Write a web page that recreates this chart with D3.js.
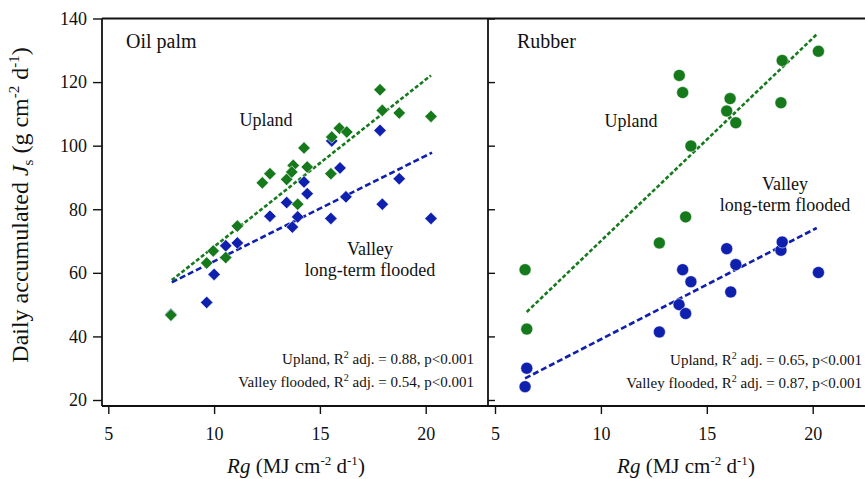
<!DOCTYPE html>
<html><head><meta charset="utf-8">
<script src="https://cdn.jsdelivr.net/npm/d3@7"></script>
<style>body{margin:0;background:#fff}svg{display:block}text{font-family:"Liberation Serif","Times New Roman",serif;fill:#111}</style>
</head><body><svg id="c" width="865" height="479"></svg>
<script>
// ---- data ----
const xTicks = [5, 10, 15, 20];
const yTicks = [20, 40, 60, 80, 100, 120, 140];
const panelNames = ["Oil palm", "Rubber"];

const oilUplandX = [7.96, 9.65, 9.96, 10.55, 11.1, 12.28, 12.64, 13.43, 13.74, 13.67, 14.25, 14.4, 13.95, 15.52, 15.56, 15.92, 16.27, 17.84, 17.95, 18.75, 20.25];
const oilUplandY = [46.7, 63.1, 66.9, 64.8, 74.7, 88.3, 91.2, 89.4, 93.8, 91.7, 99.3, 93.3, 81.6, 91.2, 102.7, 105.5, 104.3, 117.6, 111.1, 110.3, 109.2];
const oilValleyX = [7.96, 9.65, 10.0, 10.55, 11.1, 12.64, 13.43, 13.7, 13.95, 14.25, 14.4, 15.52, 15.95, 16.23, 17.84, 17.95, 18.75, 20.25, 15.56];
const oilValleyY = [47.0, 50.7, 59.5, 68.5, 69.4, 77.8, 82.1, 74.4, 77.6, 88.6, 84.9, 77.1, 93.0, 83.9, 104.8, 81.6, 89.6, 77.1, 101.5];

const rubUplandX = [6.42, 6.5, 12.76, 13.7, 13.86, 14.0, 14.25, 15.94, 16.1, 16.37, 18.5, 18.56, 20.27];
const rubUplandY = [61.0, 42.3, 69.4, 122.1, 116.7, 77.6, 99.9, 110.9, 114.8, 107.2, 113.5, 126.8, 129.7];
const rubValleyX = [6.5, 6.42, 12.76, 13.69, 13.86, 14.0, 14.25, 15.94, 16.13, 16.37, 18.5, 18.56, 20.27];
const rubValleyY = [30.0, 24.2, 41.4, 50.0, 61.0, 47.2, 57.2, 67.6, 54.0, 62.6, 67.1, 69.7, 60.1];

// regression line end points
const oilUplandFitX = [8, 20.25], oilUplandFitY = [57.7, 122.1];
const oilValleyFitX = [8, 20.3], oilValleyFitY = [57.0, 97.8];
const rubUplandFitX = [6.5, 20.22], rubUplandFitY = [47.7, 135.2];
const rubValleyFitX = [6.42, 20.19], rubValleyFitY = [26.8, 74.1];

const oilStats = ["Upland", "0.88", "Valley flooded", "0.54"];
const rubStats = ["Upland", "0.65", "Valley flooded", "0.87"];

// ---- drawing ----
const GREEN = "#167a1c", BLUE = "#1020ae";
const svg = d3.select("#c");
const frameTop = 18.5, frameBottom = 406;
const y = d3.scaleLinear().domain([20, 140]).range([400, 18.5]);
const xL = d3.scaleLinear().domain([5, 20]).range([108.3, 425.7]);
const xR = d3.scaleLinear().domain([5, 20]).range([495, 812.7]);
const zip = (a, b) => a.map((v, i) => [v, b[i]]);

// frame lines
const frame = svg.append("g").attr("stroke", "#111").attr("stroke-width", 1.8).attr("fill", "none");
frame.append("line").attr("x1", 102).attr("x2", 865).attr("y1", frameTop).attr("y2", frameTop);
frame.append("line").attr("x1", 102).attr("x2", 865).attr("y1", frameBottom).attr("y2", frameBottom);
frame.append("line").attr("x1", 102).attr("x2", 102).attr("y1", frameTop).attr("y2", frameBottom);
frame.append("line").attr("x1", 488).attr("x2", 488).attr("y1", frameTop).attr("y2", frameBottom);

// y axis left
const ya = svg.append("g").attr("transform", "translate(102,0)")
  .call(d3.axisLeft(y).tickValues(yTicks).tickSize(9).tickPadding(6).tickSizeOuter(0));
ya.select(".domain").remove();
ya.selectAll("line").attr("stroke", "#111").attr("stroke-width", 1.4);
ya.selectAll("text").attr("font-size", 18).attr("font-family", "Liberation Serif").attr("fill", "#111");
// y ticks inward on right panel
const ya2 = svg.append("g").attr("transform", "translate(488,0)")
  .call(d3.axisRight(y).tickValues(yTicks).tickSize(7).tickFormat("").tickSizeOuter(0));
ya2.select(".domain").remove();
ya2.selectAll("line").attr("stroke", "#111").attr("stroke-width", 1.4);

// x axes
[xL, xR].forEach(sc => {
  const g = svg.append("g").attr("transform", `translate(0,${frameBottom})`)
    .call(d3.axisBottom(sc).tickValues(xTicks).tickSize(8).tickPadding(0).tickSizeOuter(0));
  g.select(".domain").remove();
  g.selectAll("line").attr("stroke", "#111").attr("stroke-width", 1.4);
  g.selectAll("text").attr("font-size", 18).attr("font-family", "Liberation Serif").attr("fill", "#111")
    .attr("y", 34).attr("dy", 0);
});

// axis titles
function rgLabel(cx) {
  const t = svg.append("text").attr("x", cx).attr("y", 473).attr("text-anchor", "middle").attr("font-size", 21);
  t.append("tspan").attr("font-style", "italic").text("Rg");
  t.append("tspan").text(" (MJ cm");
  t.append("tspan").attr("dy", -8).attr("font-size", 13).text("-2");
  t.append("tspan").attr("dy", 8).text(" d");
  t.append("tspan").attr("dy", -8).attr("font-size", 13).text("-1");
  t.append("tspan").attr("dy", 8).text(")");
}
rgLabel(296); rgLabel(686);

const yt = svg.append("text").attr("transform", "translate(28,205) rotate(-90)").attr("text-anchor", "middle").attr("font-size", 24);
yt.append("tspan").text("Daily accumulated ");
yt.append("tspan").attr("font-style", "italic").text("J");
yt.append("tspan").attr("dy", 5).attr("font-size", 15).text("s");
yt.append("tspan").attr("dy", -5).text(" (g cm");
yt.append("tspan").attr("dy", -9).attr("font-size", 15).text("-2");
yt.append("tspan").attr("dy", 9).text(" d");
yt.append("tspan").attr("dy", -9).attr("font-size", 15).text("-1");
yt.append("tspan").attr("dy", 9).text(")");

// panel titles
svg.append("text").attr("x", 126).attr("y", 48).attr("font-size", 20).text(panelNames[0]);
svg.append("text").attr("x", 517).attr("y", 48).attr("font-size", 20).text(panelNames[1]);

// fit lines
const line = sc => d3.line().x(d => sc(d[0])).y(d => y(d[1]));
function fit(sc, xs, ys, color, dash) {
  svg.append("path").datum(zip(xs, ys)).attr("d", line(sc)).attr("fill", "none")
    .attr("stroke", color).attr("stroke-width", 2.6).attr("stroke-dasharray", dash);
}
fit(xL, oilUplandFitX, oilUplandFitY, GREEN, "4,2.2");
fit(xL, oilValleyFitX, oilValleyFitY, BLUE, "6,3");
fit(xR, rubUplandFitX, rubUplandFitY, GREEN, "4,2.2");
fit(xR, rubValleyFitX, rubValleyFitY, BLUE, "6,3");

// points
const diamond = d3.symbol().type(d3.symbolDiamond2).size(100);
function diamonds(xs, ys, color) {
  svg.append("g").selectAll("path").data(zip(xs, ys)).join("path")
    .attr("d", diamond).attr("transform", d => `translate(${xL(d[0])},${y(d[1])})`)
    .attr("fill", color).attr("stroke", "#ffffff").attr("stroke-width", 0.6);
}
function circles(xs, ys, color) {
  svg.append("g").selectAll("circle").data(zip(xs, ys)).join("circle")
    .attr("cx", d => xR(d[0])).attr("cy", d => y(d[1])).attr("r", 6)
    .attr("fill", color).attr("stroke", "#ffffff").attr("stroke-width", 0.5);
}
diamonds(oilValleyX, oilValleyY, BLUE);
diamonds(oilUplandX, oilUplandY, GREEN);
circles(rubValleyX, rubValleyY, BLUE);
circles(rubUplandX, rubUplandY, GREEN);

// group labels
function label(x, yy, lines) {
  const t = svg.append("text").attr("x", x).attr("y", yy).attr("text-anchor", "middle").attr("font-size", 18);
  lines.forEach((s, i) => t.append("tspan").attr("x", x).attr("dy", i ? 21 : 0).text(s));
}
label(266, 126, ["Upland"]);
label(370, 255, ["Valley", "long-term flooded"]);
label(631, 127, ["Upland"]);
label(785, 190, ["Valley", "long-term flooded"]);

// stats
function stat(xe, yy, name, r2) {
  const t = svg.append("text").attr("x", xe).attr("y", yy).attr("text-anchor", "end").attr("font-size", 15);
  t.append("tspan").text(name + ", R");
  t.append("tspan").attr("dy", -6).attr("font-size", 10).text("2");
  t.append("tspan").attr("dy", 6).text(" adj. = " + r2 + ", p<0.001");
}
stat(474, 364, oilStats[0], oilStats[1]);
stat(474, 387, oilStats[2], oilStats[3]);
stat(862, 365, rubStats[0], rubStats[1]);
stat(862, 388, rubStats[2], rubStats[3]);
</script></body></html>
